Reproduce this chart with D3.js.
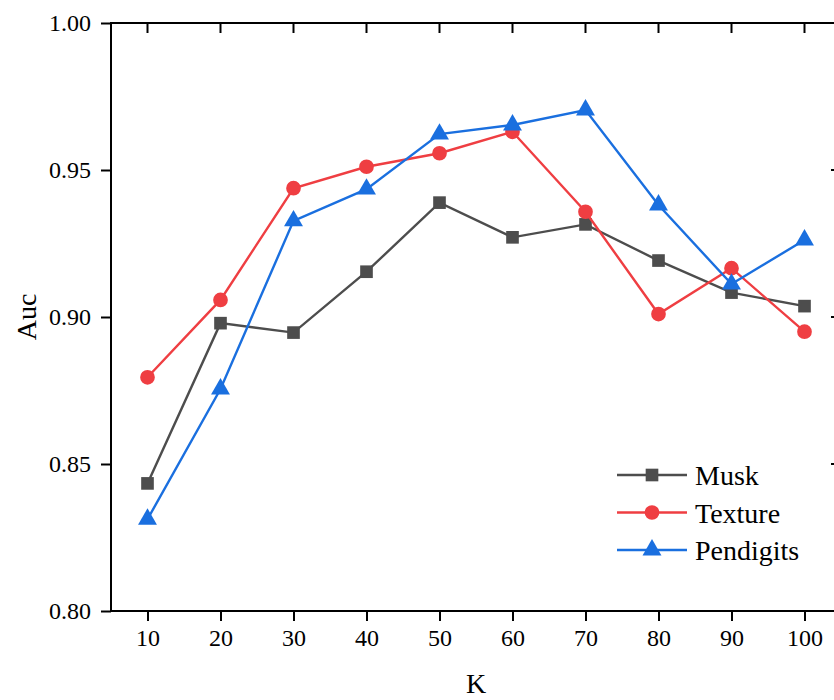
<!DOCTYPE html>
<html lang="en">
<head>
    <meta charset="UTF-8">
    <title>Auc vs K</title>
    <script src="https://d3js.org/d3.v7.min.js"></script>
    <style>
        body { margin: 0; background: #fff; }
        svg { display: block; }
        text { font-family: "Liberation Serif", serif; fill: #000; }
    </style>
</head>
<body>
<svg width="834" height="700"></svg>
<script>
    // data
    const kValues = [10, 20, 30, 40, 50, 60, 70, 80, 90, 100];
    const musk = [0.8434, 0.8979, 0.8947, 0.9154, 0.9389, 0.9271, 0.9315, 0.9192, 0.9083, 0.9037];
    const texture = [0.8795, 0.9058, 0.9438, 0.9511, 0.9557, 0.9630, 0.9358, 0.9010, 0.9166, 0.8950];
    const pendigits = [0.8312, 0.8755, 0.9327, 0.9435, 0.9622, 0.9653, 0.9704, 0.9381, 0.9112, 0.9262];
    const yTicks = [0.80, 0.85, 0.90, 0.95, 1.00];

    const series = [
        {name: 'Musk', values: musk, color: '#4d4d4d', symbol: d3.symbolSquare, size: 160},
        {name: 'Texture', values: texture, color: '#ef3e42', symbol: d3.symbolCircle, size: 170},
        {name: 'Pendigits', values: pendigits, color: '#1a6fdf', symbol: d3.symbolTriangle, size: 155}
    ];

    const width = 834;
    const height = 700;
    const margin = {top: 23, right: -7, bottom: 89, left: 111};
    const innerWidth = width - margin.left - margin.right;
    const innerHeight = height - margin.top - margin.bottom;

    const svg = d3.select('svg')
        .attr('width', width)
        .attr('height', height);
    const g = svg.append('g')
        .attr('transform', `translate(${margin.left},${margin.top})`);

    const x = d3.scaleLinear().domain([5, 105]).range([0, innerWidth]);
    const y = d3.scaleLinear().domain([0.80, 1.00]).range([innerHeight, 0]);

    // frame (right side falls just outside the picture)
    g.append('rect')
        .attr('width', innerWidth)
        .attr('height', innerHeight)
        .attr('fill', 'none')
        .attr('stroke', '#000')
        .attr('stroke-width', 2);

    // mirrored inward ticks on top and right
    g.selectAll('.top-tick')
        .data(kValues)
        .enter().append('line')
        .attr('class', 'top-tick')
        .attr('x1', d => x(d)).attr('x2', d => x(d))
        .attr('y1', 0).attr('y2', 10)
        .attr('stroke', '#000').attr('stroke-width', 2);
    g.selectAll('.right-tick')
        .data(yTicks)
        .enter().append('line')
        .attr('class', 'right-tick')
        .attr('x1', innerWidth - 10).attr('x2', innerWidth)
        .attr('y1', d => y(d)).attr('y2', d => y(d))
        .attr('stroke', '#000').attr('stroke-width', 2);

    // bottom and left axes
    const styleAxis = sel => {
        sel.attr('font-family', null).attr('font-size', null);
        sel.select('.domain').remove();
        sel.selectAll('.tick line').attr('stroke', '#000').attr('stroke-width', 2);
        sel.selectAll('.tick text').attr('font-size', 24);
    };

    g.append('g')
        .attr('transform', `translate(0,${innerHeight})`)
        .call(d3.axisBottom(x).tickValues(kValues).tickSize(10).tickPadding(8))
        .call(styleAxis);
    g.append('g')
        .call(d3.axisLeft(y).tickValues(yTicks).tickSize(10).tickPadding(10).tickFormat(d3.format('.2f')))
        .call(styleAxis);

    // axis titles
    svg.append('text')
        .attr('x', margin.left + x(55))
        .attr('y', 693)
        .attr('text-anchor', 'middle')
        .style('font-size', '28px')
        .text('K');
    svg.append('text')
        .attr('transform', `translate(36,${margin.top + innerHeight / 2}) rotate(-90)`)
        .attr('text-anchor', 'middle')
        .style('font-size', '28px')
        .text('Auc');

    // lines and markers
    const line = d3.line()
        .x((d, i) => x(kValues[i]))
        .y(d => y(d));

    series.forEach(function(s) {
        g.append('path')
            .attr('d', line(s.values))
            .attr('fill', 'none')
            .attr('stroke', s.color)
            .attr('stroke-width', 2.4);
        g.selectAll(null)
            .data(s.values)
            .enter().append('path')
            .attr('transform', (d, i) => `translate(${x(kValues[i])},${y(d)})`)
            .attr('d', d3.symbol().type(s.symbol).size(s.size))
            .attr('fill', s.color);
    });

    // legend
    const legend = svg.append('g').attr('transform', 'translate(617,475)');
    series.forEach(function(s, i) {
        const row = legend.append('g').attr('transform', `translate(0,${i * 37.5})`);
        row.append('line')
            .attr('x1', 0).attr('x2', 70)
            .attr('stroke', s.color)
            .attr('stroke-width', 2.4);
        row.append('path')
            .attr('transform', 'translate(35,0)')
            .attr('d', d3.symbol().type(s.symbol).size(s.size))
            .attr('fill', s.color);
        row.append('text')
            .attr('x', 78)
            .attr('y', 10)
            .style('font-size', '28px')
            .text(s.name);
    });
</script>
</body>
</html>
